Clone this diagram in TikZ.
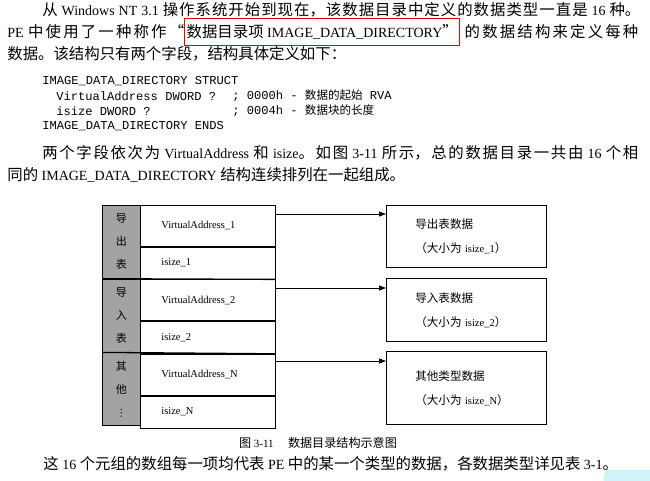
\documentclass[tikz,border=0pt]{standalone}
\usepackage{fontspec}
\setmainfont{Liberation Serif}
\setmonofont{Liberation Mono}
\newfontfamily\cjk[Scale=1.1]{Noto Sans CJK SC}
\newfontfamily\sym{DejaVu Sans}
\newcommand\zh[1]{{\cjk #1}}
\newcommand\redframe[1]{{\color{red!90!black}\setlength\fboxrule{1pt}\setlength\fboxsep{0pt}\fbox{\vrule width 0pt height 18.5pt depth 7.5pt\hspace{1.5pt}\color{black}#1\hspace{1.5pt}}}}
\XeTeXlinebreaklocale "zh"
\XeTeXlinebreakskip=0pt plus 4pt minus 0.5pt
\usetikzlibrary{arrows.meta,positioning}
\definecolor{wmcyan}{RGB}{208,244,249}

\begin{document}
\begin{tikzpicture}[x=1pt, y=-1pt, line width=0.7pt,
	txt/.style={anchor=west, inner sep=0pt, font=\fontsize{14}{16}\selectfont},
	just/.style={txt, text width=#1, align=justify, execute at begin node={\parfillskip=0pt\tolerance=9999\relax}},
	code/.style={anchor=west, inner sep=0pt, font=\ttfamily\fontsize{12.1}{14}\selectfont},
	grp/.style={draw, fill=black!36, anchor=north west, minimum width=38pt, minimum height=73pt, inner sep=0pt, align=center, font=\cjk\fontsize{10}{23}\selectfont},
	cell/.style={draw, anchor=north west, minimum width=135pt, text width=93pt, inner xsep=21pt, inner ysep=0pt, align=left, font=\fontsize{10.5}{12}\selectfont},
	datbox/.style={draw, anchor=north west, minimum width=160pt, text width=102pt, inner xsep=29pt, inner ysep=0pt, align=left, font=\fontsize{10.5}{24}\selectfont},
	arr/.style={-{Triangle[length=7pt,width=5pt]}},
	]
	\path[use as bounding box, fill=white] (0,0) rectangle (650,481);
	\node[just=598pt] (l1) at (42,10) {\zh{从} Windows NT 3.1 \zh{操作系统开始到现在，该数据目录中定义的数据类型一直是} 16 \zh{种。}};
	\node[just=631pt] (l2) at (7,32) {PE \zh{中使用了一种称作“}\redframe{\zh{数据目录项} IMAGE\_DATA\_DIRECTORY\zh{”}} \zh{的数据结构来定义每种}};
	\node[txt] (l3) at (7,54) {\zh{数据。该结构只有两个字段，结构具体定义如下：}};

	\node[code] (c1) at (42,81) {IMAGE\_DATA\_DIRECTORY STRUCT};
	\node[code] (c2) at (56,96) {VirtualAddress DWORD ?};
	\node[code] (c2r) at (232,96) {; 0000h - {\cjk\fontsize{10.5}{12}\selectfont 数据的起始} RVA};
	\node[code] (c3) at (56,111) {isize DWORD ?};
	\node[code] (c3r) at (232,111) {; 0004h - {\cjk\fontsize{10.5}{12}\selectfont 数据块的长度}};
	\node[code] (c4) at (42,126) {IMAGE\_DATA\_DIRECTORY ENDS};

	\node[just=596pt] (p1) at (42,153) {\zh{两个字段依次为} VirtualAddress \zh{和} isize\zh{。如图} 3-11 \zh{所示，总的数据目录一共由} 16 \zh{个相}};
	\node[txt] (p2) at (7,175) {\zh{同的} IMAGE\_DATA\_DIRECTORY \zh{结构连续排列在一起组成。}};

	\node[grp] (g1) at (102,205) {导\\出\\表};
	\node[grp, below=0pt of g1] (g2) {导\\入\\表};
	\node[grp, below=0pt of g2] (g3) {其\\他\\{\sym ⋮}};
	\node[cell, minimum height=41pt] (va1) at (140,205) {VirtualAddress\_1};
	\node[cell, minimum height=32pt, below=0pt of va1] (sz1) {isize\_1};
	\node[cell, minimum height=41pt, below=0pt of sz1] (va2) {VirtualAddress\_2};
	\node[cell, minimum height=32pt, below=0pt of va2] (sz2) {isize\_2};
	\node[cell, minimum height=41pt, below=0pt of sz2] (vaN) {VirtualAddress\_N};
	\node[cell, minimum height=32pt, below=0pt of vaN] (szN) {isize\_N};
	\draw[line width=1.3pt] (g2.north west) -- (va2.north east);
	\draw[line width=1.3pt] (g3.north west) -- (vaN.north east);

	\node[datbox, minimum height=62pt] (b1) at (386,205) {\zh{导出表数据}\\\zh{（大小为} isize\_1\zh{）}};
	\node[datbox, minimum height=63pt] (b2) at (386,278) {\zh{导入表数据}\\\zh{（大小为} isize\_2\zh{）}};
	\node[datbox, minimum height=73pt] (b3) at (386,351) {\zh{其他类型数据}\\\zh{（大小为} isize\_N\zh{）}};
	\coordinate (a1) at (275,214);
	\coordinate (a2) at (275,288);
	\coordinate (a3) at (275,361);
	\draw[arr] (a1) -- (a1 -| b1.west);
	\draw[arr] (a2) -- (a2 -| b2.west);
	\draw[arr] (a3) -- (a3 -| b3.west);

	\node[font=\fontsize{11}{13}\selectfont, inner sep=0pt] (cap) at (318,443) {\zh{图} 3-11\hspace{1.3em}\zh{数据目录结构示意图}};
	\node[txt] (l5) at (43,464) {\zh{这} 16 \zh{个元组的数组每一项均代表} PE \zh{中的某一个类型的数据，各数据类型详见表} 3-1\zh{。}};
	\fill[wmcyan, rounded corners=5pt] (604,470) rectangle (664,492);
\end{tikzpicture}
\end{document}
